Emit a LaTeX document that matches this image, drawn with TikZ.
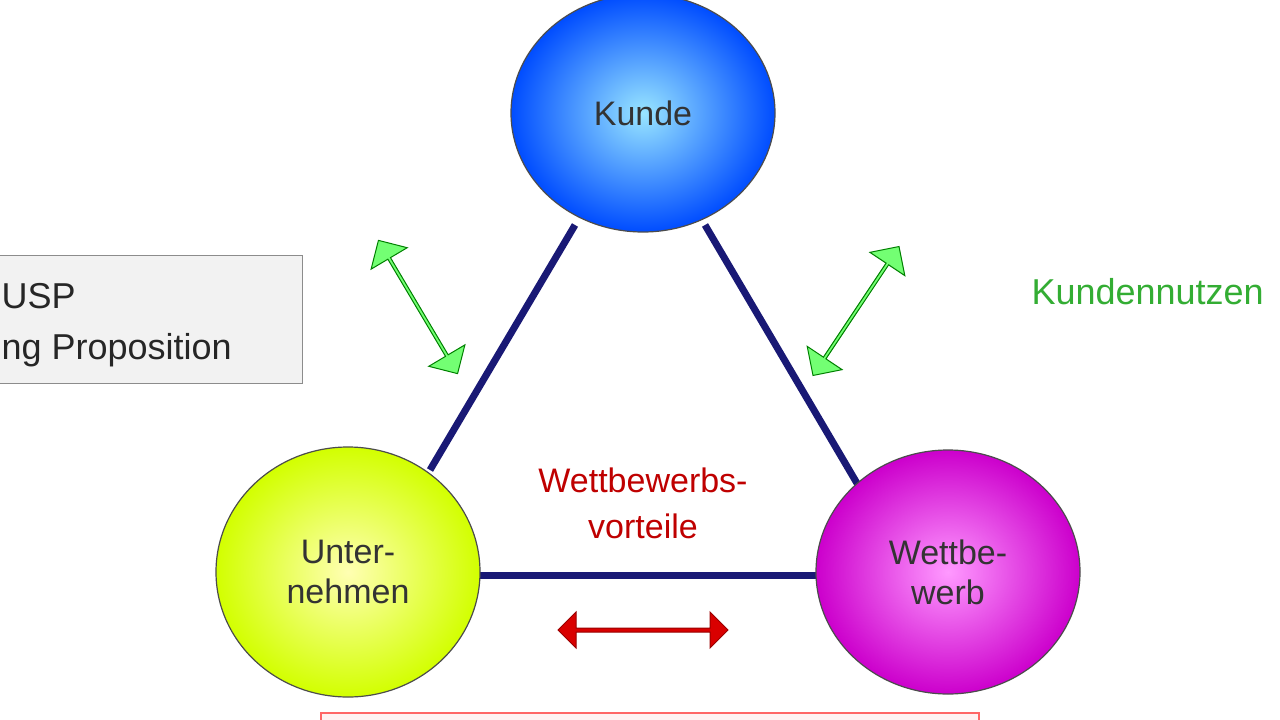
\documentclass[tikz,border=0pt]{standalone}
\usepackage{fontspec}
\setmainfont{Liberation Sans}
\usetikzlibrary{shapes.arrows,shapes.geometric}
\begin{document}
\begin{tikzpicture}[x=1pt,y=-1pt,
  circ/.style={draw=black!70,line width=1.2pt,ellipse,inner sep=0pt},
  lbl/.style={font=\fontsize{34}{40}\selectfont,align=center,text=black!80},
  edge/.style={draw=blue!40!black!90,line width=7pt},
  garrow/.style={double arrow,draw=green!50!black,fill=green!55,line width=1pt,minimum height=155pt,minimum width=42pt,double arrow head extend=9pt,inner sep=0pt,shape border uses incircle},
  ]
\useasboundingbox (0,0) rectangle (1280,720);
\clip (0,0) rectangle (1280,720);
\fill[white] (0,0) rectangle (1280,720);
% side box
\node[draw=black!45,fill=black!5,minimum width=340pt,minimum height=128pt,anchor=north east] (usp) at (302,255) {};
\node[font=\fontsize{36}{40}\selectfont,anchor=west,text=black!85] (usptext) at (-2,296) {USP};
\node[font=\fontsize{36}{40}\selectfont,anchor=west,text=black!85] (usptext2) at (-2,350) {ng Proposition};
\node[font=\fontsize{36}{40}\selectfont,anchor=west,text=green!60!black!80] (kn) at (1028,292) {Kundennutzen};
% bottom box
\node[draw=red!60,fill=red!5,line width=1.5pt,minimum width=658pt,minimum height=40pt,anchor=north west] (bb) at (320,712) {};
% edges
\coordinate (k) at (643,113); \coordinate (u) at (348,572); \coordinate (w) at (948,572);
\draw[edge] (575,225) -- (430,470);
\draw[edge] (705,225) -- (858,485);
\draw[edge] (470,575) -- (830,575);
% circles
\node[circ,minimum width=264pt,minimum height=238pt,shading=radial,inner color=blue!25!cyan!40,outer color=blue!70!cyan] (kunde) at (k) {};
\node[lbl] at (kunde) {Kunde};
\node[circ,minimum width=264pt,minimum height=250pt,shading=radial,inner color=yellow!30,outer color=lime!70!yellow] (unt) at (u) {};
\node[lbl] at (unt) {Unter-\\nehmen};
\node[circ,minimum width=264pt,minimum height=244pt,shading=radial,inner color=magenta!40,outer color=magenta!80!black] (wett) at (w) {};
\node[lbl] at (wett) {Wettbe-\\werb};
\node[font=\fontsize{34}{46}\selectfont,align=center,text=red!75!black] (wv) at (643,503) {Wettbewerbs-\\vorteile};
% arrows
\node[garrow,rotate=-59.3] (ga1) at (418,307) {};
\node[garrow,rotate=56.3] (ga2) at (856,311) {};
\node[double arrow,draw=red!60!black,fill=red!85!black,minimum height=170pt,minimum width=36pt,double arrow head extend=4pt,inner sep=0pt,line width=1pt] (ra) at (643,630) {};
\end{tikzpicture}
\end{document}
